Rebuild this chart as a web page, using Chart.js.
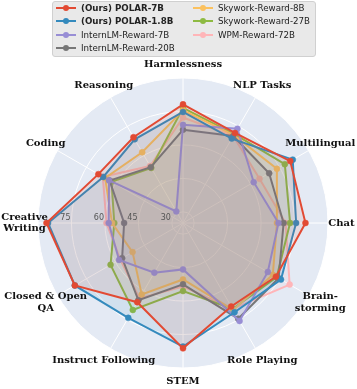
<!DOCTYPE html>
<html>
<head>
<meta charset="utf-8">
<script src="https://cdn.jsdelivr.net/npm/chart.js@4/dist/chart.umd.min.js"></script>
<style>
  body { margin: 0; background: #fff; }
  #wrap { position: relative; width: 357px; height: 389px; overflow: hidden; }
  #radar { position: absolute; left: 0; top: 0; }
  #legend { position: absolute; left: 52px; top: 1px; width: 262px; height: 54px;
    background: #e9e9e9; border: 1px solid #d0d0d0; border-radius: 3px; }
  .item { position: absolute; height: 12px; font: 8.7px "DejaVu Sans", sans-serif; color: #222;
    white-space: nowrap; line-height: 12px; }
  .item .line { position: absolute; left: 0; top: 5px; width: 20px; height: 2px; }
  .item .dot { position: absolute; left: 7px; top: 3px; width: 6px; height: 6px; border-radius: 50%; }
  .item .txt { position: absolute; left: 25px; top: 0; }
</style>
</head>
<body>
<div id="wrap">
  <canvas id="radar" width="357" height="389"></canvas>
  <div id="legend"></div>
</div>
<script>
// categories, clockwise from the top
const categories = ["Harmlessness", "NLP Tasks", "Multilingual", "Chat", ["Brain-", "storming"],
  "Role Playing", "STEM", "Instruct Following", ["Closed & Open", "QA"], ["Creative", "Writing"],
  "Coding", "Reasoning"];
const tickValues = [30, 45, 60, 75];

const modelNames = ["(Ours) POLAR-7B", "(Ours) POLAR-1.8B", "InternLM-Reward-7B", "InternLM-Reward-20B",
  "Skywork-Reward-8B", "Skywork-Reward-27B", "WPM-Reward-72B"];
const modelColors = ["#E24A33", "#348ABD", "#988ED5", "#777777", "#FBC15E", "#8EBA42", "#FFB5B8"];

const polar7b    = [78.2, 71.6, 80.5, 79.9, 73.1, 68.2, 81.2, 66.0, 81.0, 86.2, 68.8, 69.4];
const polar18b   = [74.8, 68.7, 81.8, 75.7, 75.7, 71.2, 80.4, 74.1, 81.0, 85.5, 66.3, 68.3];
const internlm7b = [69.0, 73.8, 61.6, 67.8, 68.9, 75.7, 45.8, 50.7, 58.1, 58.3, 63.3, 31.0];
const internlm20b= [66.8, 70.0, 69.6, 70.1, 74.5, 74.5, 52.5, 65.0, 56.5, 51.4, 63.0, 53.9];
const skywork8b  = [75.5, 70.5, 73.6, 67.1, 71.5, 70.0, 50.3, 62.0, 51.1, 56.8, 65.3, 61.6];
const skywork27b = [76.6, 71.0, 77.7, 73.0, 73.5, 69.5, 55.5, 70.0, 62.5, 55.8, 62.0, 53.5];
const wpm72b     = [72.3, 70.0, 64.6, 71.0, 80.2, 69.5, 53.5, 64.0, 57.5, 59.3, 66.5, 54.5];
const seriesValues = [polar7b, polar18b, internlm7b, internlm20b, skywork8b, skywork27b, wpm72b];

function hexA(hex, a) {
  const n = parseInt(hex.slice(1), 16);
  return "rgba(" + (n >> 16) + "," + ((n >> 8) & 255) + "," + (n & 255) + "," + a + ")";
}

// legend, matplotlib style: 2 columns filled top to bottom
const legend = document.getElementById("legend");
modelNames.forEach((name, i) => {
  const col = Math.floor(i / 4), row = i % 4;
  const el = document.createElement("div");
  el.className = "item";
  el.style.left = (col === 0 ? 3 : 140) + "px";
  el.style.top = (row * 13.33) + "px";
  el.innerHTML = '<span class="line" style="background:' + modelColors[i] + '"></span>' +
    '<span class="dot" style="background:' + modelColors[i] + '"></span>' +
    '<span class="txt"' + (name.startsWith("(Ours)") ? ' style="font-weight:bold"' : '') + '>' + name + '</span>';
  legend.appendChild(el);
});

// disc background under the grid
const discBg = {
  id: "discBg",
  beforeDraw(chart) {
    const s = chart.scales.r, ctx = chart.ctx;
    ctx.save();
    ctx.fillStyle = "#E4EAF4";
    ctx.beginPath();
    ctx.arc(s.xCenter, s.yCenter, s.drawingArea, 0, Math.PI * 2);
    ctx.fill();
    ctx.restore();
  }
};

// category names centred at a fixed radius, r tick labels along the left spoke
const textLayer = {
  id: "textLayer",
  afterDraw(chart) {
    const s = chart.scales.r, ctx = chart.ctx;
    ctx.save();
    ctx.textAlign = "center";
    ctx.textBaseline = "middle";
    ctx.fillStyle = "#555";
    ctx.font = "8px 'DejaVu Sans'";
    tickValues.forEach(v => {
      const r = s.getDistanceFromCenterForValue(v);
      ctx.fillText(String(v), s.xCenter - r - 6, s.yCenter - 5.5);
    });
    ctx.fillStyle = "#111";
    ctx.font = "bold 10px 'DejaVu Serif'";
    categories.forEach((lab, i) => {
      const p = s.getPointPosition(i, s.drawingArea + 13.5);
      const lines = Array.isArray(lab) ? lab : [lab];
      lines.forEach((t, j) => {
        ctx.fillText(t, p.x, p.y + (j - (lines.length - 1) / 2) * 11.5);
      });
    });
    ctx.restore();
  }
};

const radarData = {
  labels: categories,
  datasets: seriesValues.map((vals, i) => ({
    label: modelNames[i],
    data: vals,
    borderColor: modelColors[i],
    backgroundColor: hexA(modelColors[i], 0.1),
    pointBackgroundColor: modelColors[i],
    pointBorderColor: modelColors[i],
    pointRadius: 3,
    pointBorderWidth: 0.5,
    borderWidth: 2,
    fill: "start"
  }))
};

const radarOptions = {
  responsive: false,
  animation: false,
  layout: { padding: { left: 38, top: 78, right: 29, bottom: 21 } },
  scales: {
    r: {
      min: 25,
      max: 90,
      ticks: { stepSize: 15, display: false },
      grid: { circular: true, color: "#ffffff", lineWidth: 1 },
      angleLines: { color: "#ffffff", lineWidth: 1 },
      pointLabels: { display: false }
    }
  },
  plugins: {
    legend: { display: false },
    tooltip: { enabled: false }
  }
};

new Chart(document.getElementById("radar"), {
  type: "radar",
  data: radarData,
  options: radarOptions,
  plugins: [discBg, textLayer]
});
</script>
</body>
</html>
